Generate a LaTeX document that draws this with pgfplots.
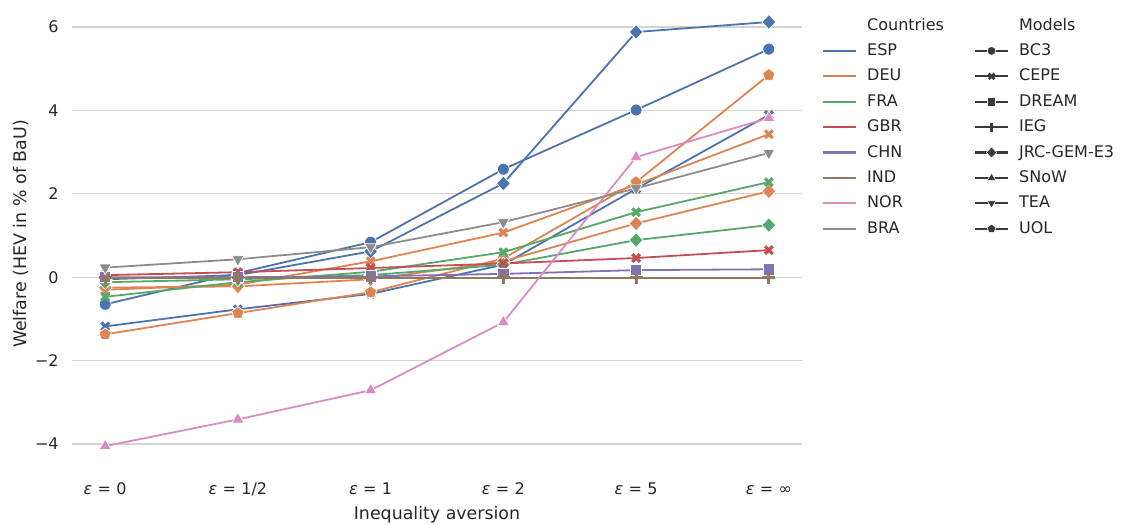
\documentclass[border=0pt]{standalone}
\usepackage{fontspec}
\setmainfont{DejaVu Sans}
\usepackage{pgfplots}
\pgfplotsset{compat=1.18}
\definecolor{ESPc}{HTML}{4C72B0}
\definecolor{DEUc}{HTML}{DD8452}
\definecolor{FRAc}{HTML}{55A868}
\definecolor{GBRc}{HTML}{C44E52}
\definecolor{CHNc}{HTML}{8172B3}
\definecolor{INDc}{HTML}{937860}
\definecolor{NORc}{HTML}{DA8BC3}
\definecolor{BRAc}{HTML}{8C8C8C}
\definecolor{tc}{HTML}{262626}
\definecolor{gridc}{HTML}{D3D3D3}
\definecolor{mg}{HTML}{3A3A3A}
\newcommand{\eps}{{\itshape ε}}
\pgfplotsset{
  filled/.style={color=#1, line width=0.9pt, mark options={solid, fill=#1, draw=white, line width=0.35pt}},
  filledrot/.style={color=#1, line width=0.9pt, mark options={solid, fill=#1, draw=white, line width=0.35pt, rotate=180}},
  stroked/.style={color=#1, line width=0.9pt, mark options={solid, draw=#1, line width=1.6pt}},
  mBC3/.style={mark=*, mark size=3.0pt},
  mCEPE/.style={mark=x, mark size=2.7pt},
  mDREAM/.style={mark=square*, mark size=2.8pt},
  mIEG/.style={mark=+, mark size=3.2pt},
  mJRC/.style={mark=diamond*, mark size=3.7pt, every mark/.append style={xscale=1.25}},
  mSNoW/.style={mark=triangle*, mark size=3.5pt},
  mTEA/.style={mark=triangle*, mark size=3.5pt},
  mUOL/.style={mark=pentagon*, mark size=3.2pt},
}
\begin{document}
\begin{tikzpicture}
\path[use as bounding box] (0,0) rectangle (561pt,262pt);
\begin{axis}[
  at={(36pt,28.35pt)}, anchor=south west,
  scale only axis, width=365pt, height=233.25pt,
  xmin=-0.25, xmax=5.25, ymin=-4.5585, ymax=6.6285,
  axis line style={draw=none}, major tick length=0pt, tick style={draw=none},
  ymajorgrids, grid style={gridc, line width=0.6pt},
  xtick={0,1,2,3,4,5},
  xticklabels={\eps\,\,=\,\,0, \eps\,\,=\,\,1/2, \eps\,\,=\,\,1, \eps\,\,=\,\,2, \eps\,\,=\,\,5, \eps\,\,=\,\,∞},
  ytick={-4,-2,0,2,4,6},
  yticklabels={−4,−2,0,2,4,6},
  ticklabel style={font=\fontsize{8}{9.6}\selectfont, text=tc, inner sep=0pt},
  xticklabel style={anchor=north, yshift=-7.5pt, text height=6pt},
  yticklabel style={anchor=east, xshift=-6.5pt},
  xlabel={Inequality aversion}, ylabel={Welfare (HEV in \% of BaU)},
  label style={font=\fontsize{8.7}{10.4}\selectfont, text=tc},
  xlabel style={at={(axis description cs:0.5,-0.1017)}, anchor=center},
  ylabel style={at={(axis description cs:-0.070,0.5)}, anchor=center},
  legend image code/.code={\draw[mark repeat=2, mark phase=2, #1] plot coordinates {(0pt,0pt) (8.25pt,0pt) (16.5pt,0pt)};},
  legend columns=2,
  legend cell align=left,
  legend style={at={(1.0274,0.9631)}, anchor=north west, draw=none, fill=none,
    font=\fontsize{8}{9.6}\selectfont, text=tc, inner sep=0pt, outer sep=0pt,
    row sep=5.2pt, column sep=5pt,
    /tikz/every even column/.append style={column sep=15pt},
    nodes={inner sep=0pt, text height=6pt, text depth=1.5pt}},
]
% ---------- legend ----------
\addlegendimage{empty legend}\addlegendentry{Countries}
\addlegendimage{empty legend}\addlegendentry{Models}
\addlegendimage{ESPc, line width=1.1pt}\addlegendentry{ESP}
\addlegendimage{mg, line width=1.1pt, mark=*, mark size=2.2pt, mark options={solid, fill=mg, draw=white, line width=0.3pt}}\addlegendentry{BC3}
\addlegendimage{DEUc, line width=1.1pt}\addlegendentry{DEU}
\addlegendimage{mg, line width=1.1pt, mark=x, mark size=2.0pt, mark options={solid, draw=mg, line width=1.3pt}}\addlegendentry{CEPE}
\addlegendimage{FRAc, line width=1.1pt}\addlegendentry{FRA}
\addlegendimage{mg, line width=1.1pt, mark=square*, mark size=2.1pt, mark options={solid, fill=mg, draw=white, line width=0.3pt}}\addlegendentry{DREAM}
\addlegendimage{GBRc, line width=1.1pt}\addlegendentry{GBR}
\addlegendimage{mg, line width=1.1pt, mark=+, mark size=2.3pt, mark options={solid, draw=mg, line width=1.3pt}}\addlegendentry{IEG}
\addlegendimage{CHNc, line width=1.1pt}\addlegendentry{CHN}
\addlegendimage{mg, line width=1.1pt, mark=diamond*, mark size=2.8pt, mark options={solid, fill=mg, draw=white, line width=0.3pt, xscale=1.25}}\addlegendentry{JRC-GEM-E3}
\addlegendimage{INDc, line width=1.1pt}\addlegendentry{IND}
\addlegendimage{mg, line width=1.1pt, mark=triangle*, mark size=2.5pt, mark options={solid, fill=mg, draw=white, line width=0.3pt}}\addlegendentry{SNoW}
\addlegendimage{NORc, line width=1.1pt}\addlegendentry{NOR}
\addlegendimage{mg, line width=1.1pt, mark=triangle*, mark size=2.5pt, mark options={solid, fill=mg, draw=white, line width=0.3pt, rotate=180}}\addlegendentry{TEA}
\addlegendimage{BRAc, line width=1.1pt}\addlegendentry{BRA}
\addlegendimage{mg, line width=1.1pt, mark=pentagon*, mark size=2.3pt, mark options={solid, fill=mg, draw=white, line width=0.3pt}}\addlegendentry{UOL}
% ---------- data ----------
% ESP
\addplot[forget plot, filled=ESPc, mBC3] coordinates {(0,-0.65) (1,0.10) (2,0.84) (3,2.59) (4,4.01) (5,5.47)};
\addplot[forget plot, filled=ESPc, mJRC] coordinates {(0,-0.05) (1,0.05) (2,0.62) (3,2.25) (4,5.88) (5,6.12)};
\addplot[forget plot, stroked=ESPc, mCEPE] coordinates {(0,-1.18) (1,-0.77) (2,-0.40) (3,0.30) (4,2.12) (5,3.89)};
% DEU
\addplot[forget plot, filled=DEUc, mUOL] coordinates {(0,-1.37) (1,-0.86) (2,-0.36) (3,0.45) (4,2.28) (5,4.85)};
\addplot[forget plot, stroked=DEUc, mCEPE] coordinates {(0,-0.30) (1,-0.18) (2,0.38) (3,1.07) (4,2.22) (5,3.43)};
\addplot[forget plot, filled=DEUc, mJRC] coordinates {(0,-0.25) (1,-0.22) (2,-0.05) (3,0.38) (4,1.29) (5,2.06)};
% FRA
\addplot[forget plot, stroked=FRAc, mCEPE] coordinates {(0,-0.47) (1,-0.12) (2,0.13) (3,0.60) (4,1.56) (5,2.28)};
\addplot[forget plot, filled=FRAc, mJRC] coordinates {(0,-0.12) (1,-0.05) (2,0.05) (3,0.30) (4,0.89) (5,1.25)};
% GBR
\addplot[forget plot, stroked=GBRc, mCEPE] coordinates {(0,0.05) (1,0.12) (2,0.22) (3,0.33) (4,0.46) (5,0.65)};
% CHN
\addplot[forget plot, filled=CHNc, mDREAM] coordinates {(0,0.00) (1,0.00) (2,0.02) (3,0.08) (4,0.17) (5,0.19)};
% IND
\addplot[forget plot, stroked=INDc, mIEG] coordinates {(0,-0.01) (1,-0.01) (2,-0.01) (3,-0.01) (4,-0.01) (5,-0.01)};
% NOR
\addplot[forget plot, filled=NORc, mSNoW] coordinates {(0,-4.05) (1,-3.41) (2,-2.71) (3,-1.08) (4,2.88) (5,3.82)};
% BRA
\addplot[forget plot, filledrot=BRAc, mTEA] coordinates {(0,0.23) (1,0.43) (2,0.72) (3,1.32) (4,2.13) (5,2.98)};
\end{axis}
\end{tikzpicture}
\end{document}
